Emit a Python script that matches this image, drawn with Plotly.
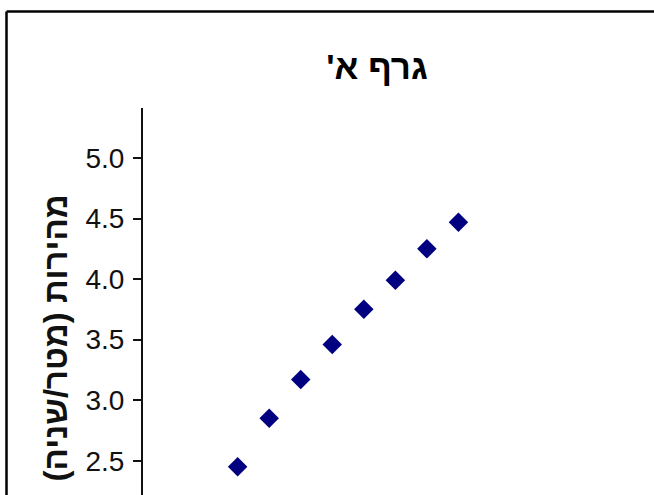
import plotly.graph_objects as go

# Data
time_s = [3, 4, 5, 6, 7, 8, 9, 10]
speed = [2.45, 2.85, 3.17, 3.46, 3.75, 3.99, 4.25, 4.47]
y_ticks = [2.5, 3.0, 3.5, 4.0, 4.5, 5.0]
RLM = "\u200f"
title_text = "<b>" + RLM + "גרף א'" + RLM + "</b>"
y_title = "<b>" + RLM + "מהירות (מטר/שניה)" + RLM + "</b>"

W, H = 654, 495
ML, MR, MT, MB = 143, 0, 108, 0
PW, PH = W - ML - MR, H - MT - MB

def px_x(p):  # pixel -> paper x
    return (p - ML) / PW

def px_y(p):  # pixel -> paper y
    return (H - MB - p) / PH

FONT = "Liberation Sans, Arial, sans-serif"

fig = go.Figure()
fig.add_trace(go.Scatter(
    x=time_s, y=speed, mode="markers",
    marker=dict(symbol="diamond", size=15, color="#000080"),
    showlegend=False, hoverinfo="skip"))

fig.update_layout(
    width=W, height=H,
    margin=dict(l=ML, r=MR, t=MT, b=MB, pad=0),
    paper_bgcolor="white", plot_bgcolor="white",
    xaxis=dict(range=[0, 16.2], visible=False),
    yaxis=dict(range=[2.217, 5.413], tickvals=y_ticks, tickformat=".1f",
               showgrid=False, zeroline=False, showline=True,
               linecolor="#111", linewidth=2, ticks="outside",
               ticklen=8, tickwidth=2, tickcolor="#111",
               tickfont=dict(family=FONT, size=28, color="#111"),
               ticklabelstandoff=3),
    title=dict(text=title_text, x=377 / W, xref="container",
               y=1 - 67 / H, yref="container", xanchor="center", yanchor="middle",
               font=dict(family=FONT, size=35, color="#000")),
    shapes=[
        dict(type="line", xref="paper", yref="paper",
             x0=px_x(6.5), x1=px_x(W + 20), y0=px_y(11.5), y1=px_y(11.5),
             line=dict(color="#000", width=2.5), layer="above"),
        dict(type="line", xref="paper", yref="paper",
             x0=px_x(6.5), x1=px_x(6.5), y0=px_y(11.5), y1=px_y(H + 20),
             line=dict(color="#000", width=2.5), layer="above"),
    ],
    annotations=[dict(text=y_title, textangle=-90, xref="paper", yref="paper",
                      x=px_x(55), y=px_y(193), xanchor="center", yanchor="top",
                      showarrow=False,
                      font=dict(family=FONT, size=33, color="#111"))],
)

fig.write_html("out.html", config={"displayModeBar": False}, post_script=(
    "document.body.style.margin='0';"
    "document.body.style.overflow='hidden';"
    "document.documentElement.style.overflow='hidden';"))
